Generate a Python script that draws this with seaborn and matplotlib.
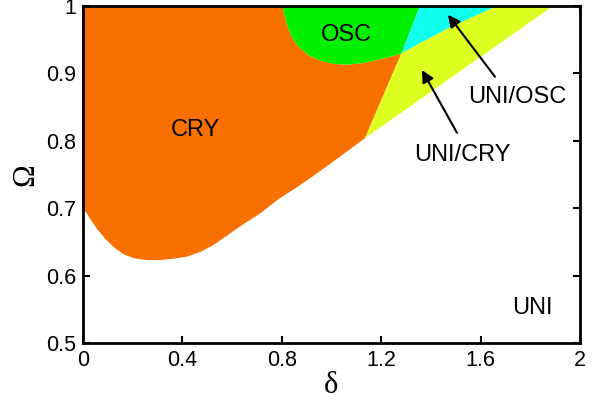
import matplotlib
matplotlib.use("Agg")
import matplotlib.pyplot as plt
import seaborn as sns

# ---- data ----
# lower boundary of the CRY region (towards UNI)
cry_low_delta = [0.0, 0.028, 0.055, 0.089, 0.122, 0.162, 0.202, 0.256, 0.310, 0.363,
                 0.417, 0.471, 0.524, 0.578, 0.632, 0.712, 0.793, 0.873, 0.954, 1.040,
                 1.135]
cry_low_omega = [0.701, 0.685, 0.670, 0.655, 0.643, 0.632, 0.626, 0.623, 0.623, 0.625,
                 0.628, 0.635, 0.645, 0.659, 0.673, 0.692, 0.715, 0.734, 0.755, 0.778,
                 0.804]
# lower boundary of the OSC region
osc_delta = [0.802, 0.820, 0.840, 0.866, 0.907, 0.961, 1.014, 1.068, 1.122, 1.175, 1.229, 1.269, 1.282]
osc_omega = [1.000, 0.974, 0.954, 0.940, 0.927, 0.918, 0.914, 0.913, 0.915, 0.919, 0.924, 0.928, 0.930]
# straight boundaries
cry_unicry_delta = [1.135, 1.282]
cry_unicry_omega = [0.804, 0.930]
osc_unioscs_delta = [1.282, 1.356]
osc_unioscs_omega = [0.930, 1.000]
unioscs_low_delta = [1.282, 1.470, 1.665]
unioscs_low_omega = [0.930, 0.967, 1.000]
uni_edge_delta = [1.135, 1.891]
uni_edge_omega = [0.804, 1.000]

x_ticks = [0, 0.4, 0.8, 1.2, 1.6, 2]
x_tick_labels = ["0", "0.4", "0.8", "1.2", "1.6", "2"]
y_ticks = [0.5, 0.6, 0.7, 0.8, 0.9, 1.0]
y_tick_labels = ["0.5", "0.6", "0.7", "0.8", "0.9", "1"]

region_labels = ["CRY", "OSC", "UNI"]
region_label_x = [0.451, 1.062, 1.807]
region_label_y = [0.816, 0.957, 0.552]

arrow_labels = ["UNI/OSC", "UNI/CRY"]
arrow_text_x = [1.746, 1.525]
arrow_text_y = [0.865, 0.779]
arrow_tail_x = [1.658, 1.505]
arrow_tail_y = [0.895, 0.812]
arrow_head_x = [1.469, 1.364]
arrow_head_y = [0.987, 0.905]

col_cry = "#F77000"
col_osc = "#00F000"
col_unioscs = "#11FFEE"
col_unicry = "#DDFF22"

sns.set_style("ticks")
plt.rcParams['font.family'] = ['Liberation Sans', 'DejaVu Sans']
plt.rcParams['text.color'] = 'black'

fig = plt.figure(figsize=(6.01, 4.00), dpi=100)
ax = fig.add_axes([0.138, 0.1425, 0.827, 0.8425])

# CRY polygon
px = list(cry_low_delta) + cry_unicry_delta[1:] + osc_delta[::-1][1:] + [0.0]
py = list(cry_low_omega) + cry_unicry_omega[1:] + osc_omega[::-1][1:] + [1.0]
ax.fill(px, py, color=col_cry, lw=0)
# OSC polygon
px = list(osc_delta) + osc_unioscs_delta[1:]
py = list(osc_omega) + osc_unioscs_omega[1:]
ax.fill(px, py, color=col_osc, lw=0)
# UNI/OSC polygon
px = list(unioscs_low_delta) + [osc_unioscs_delta[1]]
py = list(unioscs_low_omega) + [osc_unioscs_omega[1]]
ax.fill(px, py, color=col_unioscs, lw=0)
# UNI/CRY polygon
px = list(cry_unicry_delta) + unioscs_low_delta[1:] + [uni_edge_delta[1]]
py = list(cry_unicry_omega) + unioscs_low_omega[1:] + [uni_edge_omega[1]]
ax.fill(px, py, color=col_unicry, lw=0)

for t, x, y in zip(region_labels, region_label_x, region_label_y):
    ax.text(x, y, t, ha="center", va="center", fontsize=17, color="black")

for t, tx, ty, ax0, ay0, hx, hy in zip(arrow_labels, arrow_text_x, arrow_text_y,
                                      arrow_tail_x, arrow_tail_y, arrow_head_x, arrow_head_y):
    ax.text(tx, ty, t, ha="center", va="center", fontsize=17, color="black")
    ax.annotate("", xy=(hx, hy), xytext=(ax0, ay0),
                arrowprops=dict(arrowstyle="-|>", color="black", lw=1.5,
                                mutation_scale=18, shrinkA=0, shrinkB=0))

ax.set_xlim(0, 2)
ax.set_ylim(0.5, 1.0)
ax.set_xticks(x_ticks)
ax.set_xticklabels(x_tick_labels)
ax.set_yticks(y_ticks)
ax.set_yticklabels(y_tick_labels)
ax.tick_params(direction="in", length=5, width=1.5, top=True, right=True,
               labelsize=15.5, pad=5, colors="black")
for s in ax.spines.values():
    s.set_visible(True)
    s.set_linewidth(2)
    s.set_color("black")
ax.set_xlabel("δ", family="Liberation Serif", fontsize=22, labelpad=0, color="black")
ax.set_ylabel("Ω", family="Liberation Serif", fontsize=22, labelpad=4, color="black")

fig.savefig("out.png", dpi=100)
